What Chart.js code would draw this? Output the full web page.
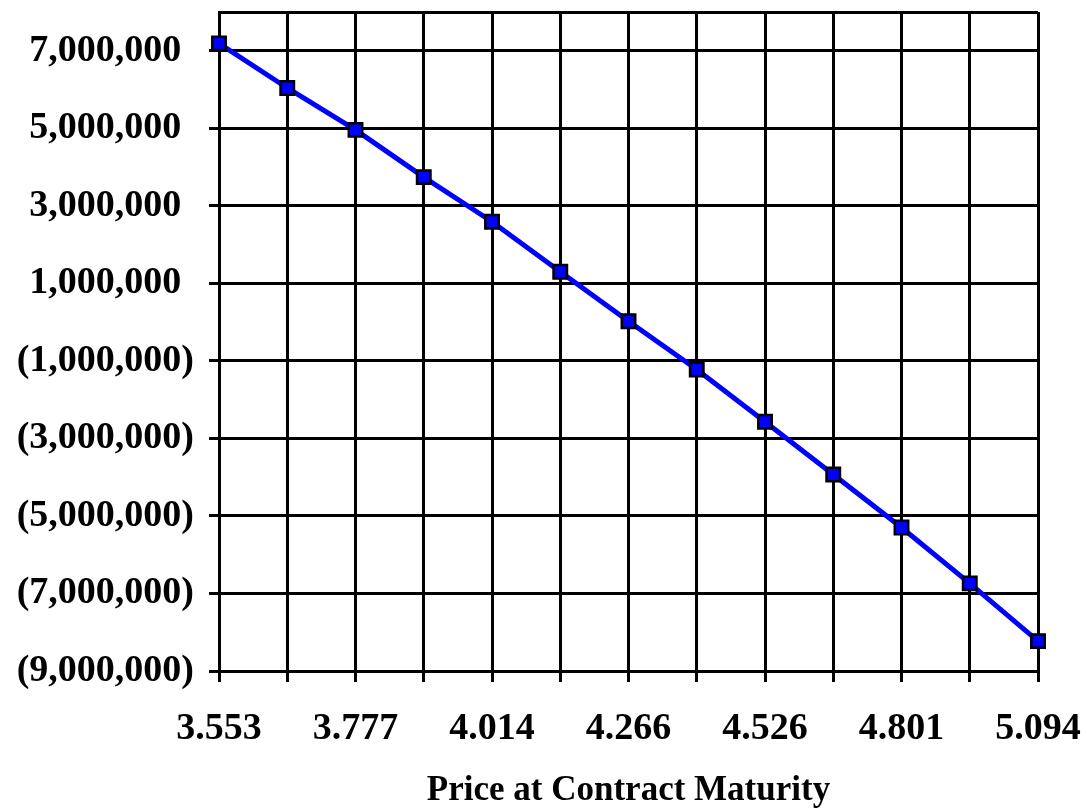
<!DOCTYPE html>
<html>
<head>
<meta charset="utf-8">
<title>Price at Contract Maturity</title>
<script src="https://cdn.jsdelivr.net/npm/chart.js@4.4.1/dist/chart.umd.min.js"></script>
<style>
  html, body { margin: 0; padding: 0; background: #fff; }
  #wrap { width: 1089px; height: 809px; position: relative; }
</style>
</head>
<body>
<div id="wrap"><canvas id="payoff"></canvas></div>
<script>
'use strict';

// price at maturity (only every other one is labelled on the axis)
const prices = ['3.553', '3.665', '3.777', '3.894', '4.014', '4.138', '4.266',
                '4.394', '4.526', '4.662', '4.801', '4.945', '5.094'];
// gain / loss of the position at each price
const payoff = [7190000, 6040000, 4960000, 3740000, 2590000, 1300000, 20000,
                -1220000, -2570000, -3930000, -5300000, -6740000, -8230000];
// value axis
const yTicks = [-9000000, -7000000, -5000000, -3000000, -1000000,
                1000000, 3000000, 5000000, 7000000, 8000000];
const yMin = -9000000;
const yMax = 8000000;

const SERIF = "'Liberation Serif', 'Times New Roman', serif";
const tickFont = { family: SERIF, size: 38, weight: 'bold' };

// excel style #,##0_);(#,##0) -- positives keep room for the ")"
function money(v) {
  const s = Math.abs(v).toLocaleString('en-US');
  return v < 0 ? '(' + s + ')' : s + '\u2004';
}

new Chart(document.getElementById('payoff'), {
  type: 'line',
  data: {
    labels: prices,
    datasets: [{
      label: 'Payoff',
      data: payoff,
      borderColor: '#0000FF',
      borderWidth: 5,
      tension: 0,
      pointStyle: 'rect',
      pointRadius: 9.5,
      pointBackgroundColor: '#0000FF',
      pointBorderColor: '#000000',
      pointBorderWidth: 2.5,
    }],
  },
  options: {
    responsive: true,
    maintainAspectRatio: false,
    animation: false,
    layout: { padding: { top: 10, right: 51, bottom: 0, left: 0 } },
    plugins: {
      legend: { display: false },
      tooltip: { enabled: false },
    },
    scales: {
      x: {
        type: 'category',
        offset: false,
        grid: {
          color: '#000',
          lineWidth: 3,
          offset: false,
          tickLength: 11,
          tickColor: '#000',
        },
        border: { color: '#000', width: 3 },
        ticks: {
          autoSkip: false,
          maxRotation: 0,
          minRotation: 0,
          color: '#000',
          font: tickFont,
          padding: 24,
          callback: (v, i) => (i % 2 === 0 ? prices[i] : ''),
        },
        title: {
          display: true,
          text: 'Price at Contract Maturity',
          color: '#000',
          font: { family: SERIF, size: 35, weight: 'bold', lineHeight: 1 },
          padding: { top: 0, bottom: 1 },
        },
        afterFit: (scale) => {
          scale.height = 138;
          scale.paddingLeft = 0;
          scale.paddingRight = 0;
        },
      },
      y: {
        min: yMin,
        max: yMax,
        grid: {
          color: '#000',
          lineWidth: 3,
          tickLength: 10,
          tickColor: (ctx) => (ctx.tick && ctx.tick.value === yMax ? 'rgba(0,0,0,0)' : '#000'),
        },
        border: { color: '#000', width: 3 },
        ticks: {
          color: '#000',
          font: tickFont,
          padding: 15,
          callback: (v) => (v === yMax ? '' : money(v)),
        },
        afterBuildTicks: (scale) => {
          scale.ticks = yTicks.map((v) => ({ value: v }));
        },
        afterFit: (scale) => {
          scale.width = 219;
          scale.paddingTop = 0;
          scale.paddingBottom = 0;
        },
      },
    },
  },
});
</script>
</body>
</html>
